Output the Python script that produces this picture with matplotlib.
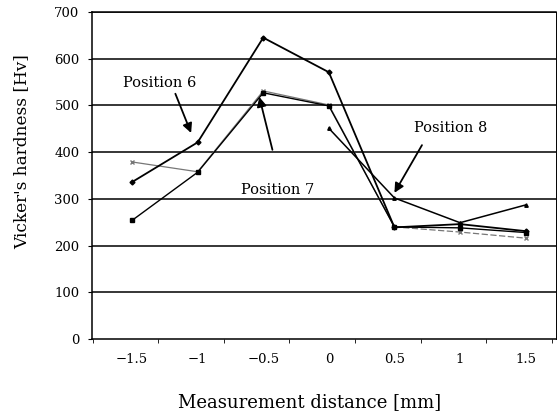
import numpy as np
import matplotlib
matplotlib.use('Agg')
import matplotlib.pyplot as plt

distance = [-1.5, -1, -0.5, 0, 0.5, 1, 1.5]
pos6 = [336, 421, 645, 571, 239, 246, 231]
pos7 = [379, 358, 531, 501, 240, 229, 216]
pos_sq = [254, 357, 527, 499, 240, 238, 228]
pos8 = [np.nan, np.nan, np.nan, 451, 302, 249, 287]
y_ticks = [0, 100, 200, 300, 400, 500, 600, 700]
x_labels = ['\u22121.5', '\u22121', '\u22120.5', '0', '0.5', '1', '1.5']

plt.rcParams['font.family'] = ['DejaVu Serif']

fig = plt.figure(figsize=(5.58, 4.12), dpi=100)
ax = fig.add_axes([0.165, 0.177, 0.831, 0.794])

for y in y_ticks[1:]:
    ax.axhline(y, color='black', lw=1.1, zorder=1)

# position 7: solid up to 0.5 mm, dashed after
ax.plot(distance[:5], pos7[:5], color='#777777', lw=0.9, marker='x', ms=3.5, mew=1, zorder=3)
ax.plot(distance[4:], pos7[4:], color='#777777', lw=0.9, ls=(0, (5, 2)),
        marker='x', ms=3.5, mew=1, zorder=3)
ax.plot(distance, pos_sq, color='black', lw=1.0, marker='s', ms=2.5, zorder=3)
ax.plot(distance, pos6, color='black', lw=1.3, marker='D', ms=2.5, zorder=4)
ax.plot(distance, pos8, color='black', lw=1.1, marker='^', ms=2.5, zorder=4)

arrow = dict(arrowstyle='-|>', color='black', lw=1.3, mutation_scale=14,
             shrinkA=0, shrinkB=0)
ax.text(-1.29, 548, 'Position 6', ha='center', va='center', fontsize=10.5)
ax.annotate('', xy=(-1.05, 441), xytext=(-1.17, 525), arrowprops=arrow)
ax.text(-0.39, 319, 'Position 7', ha='center', va='center', fontsize=10.5)
ax.annotate('', xy=(-0.53, 518), xytext=(-0.43, 405), arrowprops=arrow)
ax.text(0.93, 452, 'Position 8', ha='center', va='center', fontsize=10.5)
ax.annotate('', xy=(0.5, 313), xytext=(0.71, 415), arrowprops=arrow)

ax.set_xlim(-1.805, 1.73)
ax.set_ylim(0, 700)
ax.set_yticks(y_ticks)
ax.set_xticks(distance)
ax.set_xticklabels(x_labels)
ax.set_xticks(np.arange(-1.8, 1.75, 0.5), minor=True)
ax.tick_params(axis='x', which='major', length=0, pad=10, labelsize=9.5)
ax.tick_params(axis='x', which='minor', length=3, direction='out')
ax.tick_params(axis='y', length=3, direction='out', labelsize=9.5, pad=6)
for s in ax.spines.values():
    s.set_linewidth(1.1)
ax.spines['right'].set_linewidth(0.7)

ax.set_ylabel("Vicker's hardness [Hv]", fontsize=12.2, ha='center', va='center')
ax.yaxis.set_label_coords(-0.151, 0.572)
ax.set_xlabel('Measurement distance [mm]', fontsize=13, ha='center', va='center')
ax.xaxis.set_label_coords(0.47, -0.193)

fig.savefig('out.png', dpi=100)
